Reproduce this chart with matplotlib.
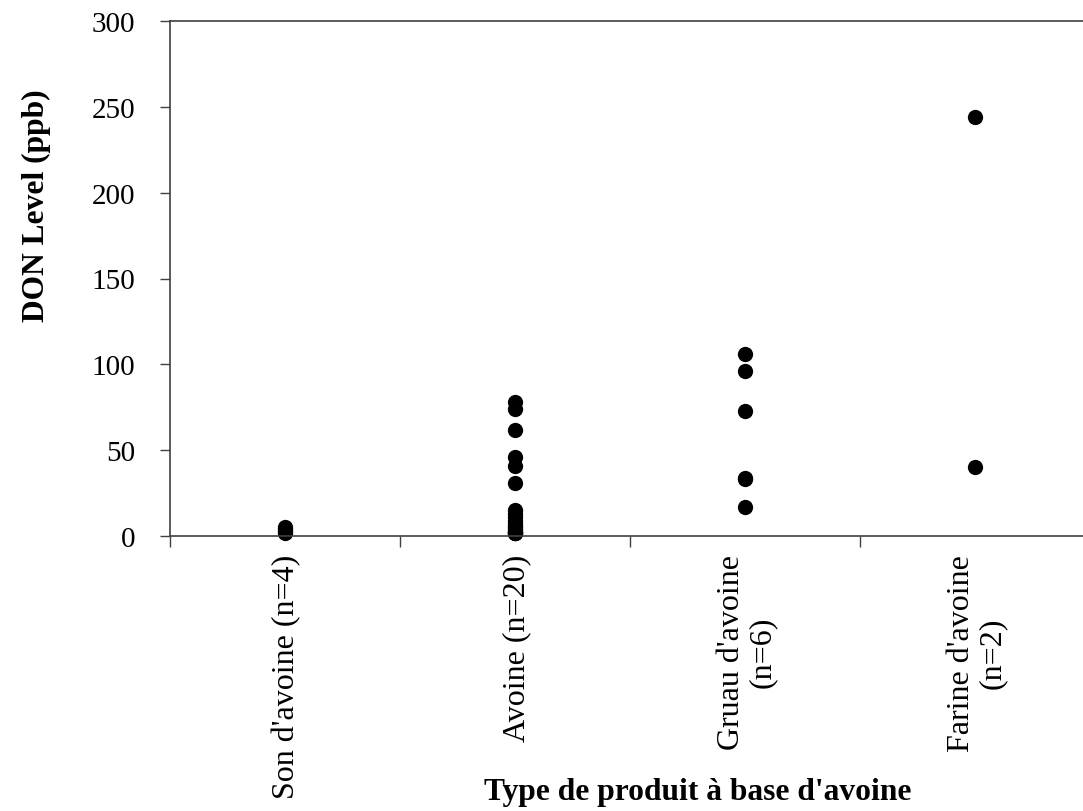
import matplotlib
matplotlib.use('Agg')
import matplotlib.pyplot as plt
from matplotlib.ticker import FixedLocator, NullFormatter

plt.rcParams['font.family'] = ['Liberation Serif', 'DejaVu Serif']

categories = ["Son d'avoine (n=4)", "Avoine (n=20)",
              "Gruau d'avoine\n(n=6)", "Farine d'avoine\n(n=2)"]
son = [5, 4, 3, 2]
avoine = [78, 74, 62, 46, 41, 31, 15, 13, 11, 9, 7, 6, 5, 4, 3, 3, 2, 2, 2, 2]
gruau = [106, 96, 73, 34, 33, 17]
farine = [244, 40]
series = [son, avoine, gruau, farine]

W, H = 1083, 812
fig = plt.figure(figsize=(W / 100, H / 100), dpi=100)
ax = fig.add_axes([170 / W, (H - 537) / H, (1090 - 170) / W, (537 - 22) / H])

for i, vals in enumerate(series):
    ax.plot([i + 1] * len(vals), vals, 'o', color='black', markersize=11,
            markeredgewidth=0, clip_on=False)

ax.set_xlim(0.5, 4.5)
ax.set_ylim(0, 300)
ax.set_yticks(range(0, 301, 50))
ax.tick_params(axis='y', direction='out', length=7, width=1, color='#404040',
               labelsize=21, pad=18)

# ticks on the category boundaries, labels under the centers
ax.xaxis.set_major_locator(FixedLocator([0.5, 1.5, 2.5, 3.5]))
ax.xaxis.set_major_formatter(NullFormatter())
ax.tick_params(axis='x', direction='out', length=8, width=1, color='#404040')
for i, lab in enumerate(categories):
    ax.annotate(lab, xy=(i + 1, 0), xycoords=('data', 'axes fraction'),
                xytext=(2, -18), textcoords='offset pixels',
                rotation=90, ha='center', va='top', multialignment='center',
                fontsize=23, linespacing=1.06)

for s in ['left', 'bottom', 'top']:
    ax.spines[s].set_color('#404040')
    ax.spines[s].set_linewidth(1.2)
ax.spines['right'].set_visible(False)

fig.text(36 / W, 1 - 206 / H, 'DON Level (ppb)', rotation=90, ha='center',
         va='center', fontsize=22.7, fontweight='bold')
fig.text(698 / W, 1 - 800 / H, "Type de produit à base d'avoine", ha='center',
         va='baseline', fontsize=22.7, fontweight='bold')

fig.savefig('out.png', dpi=100, facecolor='white')
